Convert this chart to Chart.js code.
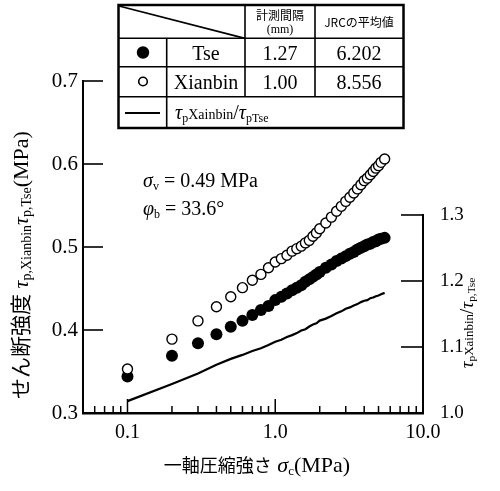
<!DOCTYPE html>
<html><head><meta charset="utf-8">
<script src="https://cdn.jsdelivr.net/npm/chart.js@4/dist/chart.umd.min.js"></script>
<style>
html,body{margin:0;padding:0;background:#fff;}
#wrap{position:relative;width:500px;height:491px;overflow:hidden;background:#fff;}
#c{position:absolute;left:0;top:0;}
.t{position:absolute;font-family:"Liberation Serif","Times New Roman",serif;color:#000;white-space:nowrap;line-height:1;}
.cjk{font-family:"Noto Sans CJK JP",sans-serif;}
.c{transform:translate(-50%,-50%);}
sub{font-size:0.6em;vertical-align:-0.25em;line-height:0;}
svg{position:absolute;left:0;top:0;}
</style></head>
<body>
<div id="wrap">
<canvas id="c" width="500" height="491"></canvas>
<svg width="500" height="491" viewBox="0 0 500 491">
  <g stroke="#000" fill="none">
    <rect x="118.5" y="5" width="285" height="123" stroke-width="2.5"/>
    <line x1="118" y1="38.3" x2="404" y2="38.3" stroke-width="1.6"/>
    <line x1="118" y1="66.7" x2="404" y2="66.7" stroke-width="1.6"/>
    <line x1="118" y1="96.7" x2="404" y2="96.7" stroke-width="1.6"/>
    <line x1="166.7" y1="38.3" x2="166.7" y2="128" stroke-width="1.6"/>
    <line x1="245" y1="5" x2="245" y2="96.7" stroke-width="1.6"/>
    <line x1="315" y1="5" x2="315" y2="96.7" stroke-width="1.6"/>
    <line x1="119" y1="6" x2="245" y2="38.3" stroke-width="1.8"/>
    <line x1="125" y1="113" x2="160" y2="113" stroke-width="2.2"/>
    <circle cx="143" cy="52.5" r="6.2" fill="#000" stroke="none"/>
    <circle cx="143" cy="81.5" r="4.3" stroke-width="1.6"/>
  </g>
</svg>
<div class="t cjk c" style="left:280px;top:15px;font-size:12px;">計測間隔</div>
<div class="t c" style="left:280px;top:29px;font-size:12px;">(mm)</div>
<div class="t cjk c" style="left:359px;top:22px;font-size:12px;">JRCの平均値</div>
<div class="t c" style="left:206px;top:53px;font-size:20px;">Tse</div>
<div class="t c" style="left:280px;top:53px;font-size:20px;">1.27</div>
<div class="t c" style="left:359px;top:53px;font-size:20px;">6.202</div>
<div class="t c" style="left:206px;top:82px;font-size:20px;">Xianbin</div>
<div class="t c" style="left:280px;top:82px;font-size:20px;">1.00</div>
<div class="t c" style="left:359px;top:82px;font-size:20px;">8.556</div>
<div class="t" style="left:175px;top:102px;font-size:20px;"><i>τ</i><sub>p</sub><span style="font-size:14px">Xainbin</span>/<i>τ</i><sub>p</sub><sub>Tse</sub></div>

<div class="t" style="left:143px;top:170px;font-size:20px;"><i>σ</i><sub>v</sub> = 0.49 MPa</div>
<div class="t" style="left:143px;top:198px;font-size:20px;"><i>φ</i><sub>b</sub> = 33.6°</div>

<div class="t" style="left:20px;top:265px;font-size:22px;transform:translate(-50%,-50%) rotate(-90deg);"><span class="cjk" style="font-size:21px">せん断強度</span> <i>τ</i><sub style="font-size:14px">p,Xianbin</sub><i>τ</i><sub style="font-size:14px">p,Tse</sub>(MPa)</div>
<div class="t" style="left:466px;top:323px;font-size:19px;transform:translate(-50%,-50%) rotate(-90deg);"><i>τ</i><sub>p</sub><span style="font-size:13px">Xainbin</span>/<i>τ</i><sub>p,Tse</sub></div>
<div class="t c" style="left:257px;top:465px;font-size:22px;"><span class="cjk" style="font-size:18px">一軸圧縮強さ</span> <i>σ</i><sub style="font-size:13px">c</sub>(MPa)</div>
</div>
<script>
const xValues = [0.1,0.2,0.3,0.4,0.5,0.6,0.7,0.8,0.9,1.0,1.1,1.2,1.3,1.4,1.5,1.6,1.7,1.8,1.9,2.0,2.2,2.4,2.6,2.8,3.0,3.2,3.4,3.6,3.8,4.0,4.2,4.4,4.6,4.8,5.0,5.2,5.5];
const tseValues = [0.344,0.369,0.384,0.395,0.404,0.411,0.418,0.424,0.429,0.436,0.440,0.444,0.448,0.451,0.454,0.458,0.461,0.464,0.467,0.470,0.475,0.479,0.483,0.486,0.489,0.492,0.494,0.497,0.499,0.501,0.503,0.504,0.506,0.507,0.509,0.510,0.511];
const xianbinValues = [0.353,0.389,0.411,0.428,0.440,0.451,0.460,0.467,0.475,0.482,0.486,0.490,0.495,0.498,0.501,0.505,0.508,0.513,0.517,0.522,0.529,0.536,0.543,0.549,0.555,0.560,0.565,0.570,0.575,0.580,0.583,0.587,0.591,0.595,0.598,0.602,0.606];
const ratioValues = [1.018,1.044,1.060,1.073,1.082,1.088,1.094,1.098,1.103,1.108,1.111,1.115,1.118,1.121,1.125,1.127,1.131,1.134,1.136,1.140,1.143,1.147,1.151,1.154,1.158,1.160,1.163,1.165,1.168,1.170,1.171,1.174,1.175,1.177,1.178,1.180,1.182];

const xTickValues = [0.1,1,10];
const xTickLabels = ['0.1','1.0','10.0'];
const xMinorTickValues = [0.06,0.07,0.08,0.09,0.2,0.3,0.4,0.5,0.6,0.7,0.8,0.9,2,3,4,5,6,7,8,9];
const yTickValues = [0.3,0.4,0.5,0.6,0.7];
const yTickLabels = ['0.3','0.4','0.5','0.6','0.7'];
const y1TickValues = [1.0,1.1,1.2,1.3];
const y1TickLabels = ['1.0','1.1','1.2','1.3'];

const serif = '"Liberation Serif","Times New Roman",serif';

const inTicks = {
  id:'inTicks',
  afterDraw(chart){
    const {ctx, chartArea:a, scales} = chart;
    const x = scales.x, y = scales.y, y1 = scales.y1;
    ctx.save();
    ctx.strokeStyle = '#000';
    const seg = (x1,y1_,x2,y2,w)=>{ctx.lineWidth=w;ctx.beginPath();ctx.moveTo(x1,y1_);ctx.lineTo(x2,y2);ctx.stroke();};
    xTickValues.forEach(v=>{ if(v>=10) return; const p=x.getPixelForValue(v); seg(p,a.bottom,p,a.bottom-14,1.5); });
    xMinorTickValues.forEach(v=>{ const p=x.getPixelForValue(v); seg(p,a.bottom,p,a.bottom-7,1.5); });
    yTickValues.forEach(v=>{ if(v<=0.3) return; const p=y.getPixelForValue(v); seg(a.left,p,a.left+20,p,1.6); });
    const top1 = y1.getPixelForValue(1.3), bot1 = y1.getPixelForValue(1.0);
    seg(a.right,top1-1,a.right,bot1,2);
    y1TickValues.forEach(v=>{ if(v<=1.0) return; const p=y1.getPixelForValue(v); seg(a.right,p,a.right-22,p,1.6); });
    ctx.restore();
  }
};

new Chart(document.getElementById('c'), {
  data: {
    datasets: [
      { type:'scatter', label:'Xianbin', order:0, data: xValues.map((v,i)=>({x:v,y:xianbinValues[i]})),
        pointRadius:5, pointBackgroundColor:'#fff', pointBorderColor:'#000', pointBorderWidth:1.4, yAxisID:'y' },
      { type:'scatter', label:'Tse', order:1, data: xValues.map((v,i)=>({x:v,y:tseValues[i]})),
        pointRadius:6, pointBackgroundColor:'#000', pointBorderColor:'#000', pointBorderWidth:0, yAxisID:'y' },
      { type:'line', label:'ratio', order:2, data: xValues.map((v,i)=>({x:v,y:ratioValues[i]})),
        borderColor:'#000', borderWidth:2.2, pointRadius:0, tension:0, fill:false, yAxisID:'y1' }
    ]
  },
  options: {
    responsive:false, animation:false, devicePixelRatio:1,
    layout:{ padding:{ top:81, left:0, right:0, bottom:0 } },
    plugins:{ legend:{display:false}, tooltip:{enabled:false} },
    scales:{
      x:{ type:'logarithmic', position:'bottom', min:0.05, max:10,
        grid:{display:false, drawTicks:false},
        border:{display:true, color:'#000', width:2.5},
        ticks:{ color:'#000', font:{family:serif,size:20}, padding:8, maxRotation:0, autoSkip:false,
          callback:(v,i)=>xTickLabels[i] },
        afterBuildTicks:(s)=>{ s.ticks = xTickValues.map(v=>({value:v})); },
        afterFit:(s)=>{ s.height = 78; }
      },
      y:{ type:'linear', position:'left', min:0.3, max:0.7,
        grid:{display:false, drawTicks:false},
        border:{display:true, color:'#000', width:2},
        ticks:{ color:'#000', font:{family:serif,size:21}, padding:5,
          callback:(v,i)=>yTickLabels[i] },
        afterBuildTicks:(s)=>{ s.ticks = yTickValues.map(v=>({value:v})); },
        afterFit:(s)=>{ s.width = 83; }
      },
      y1:{ type:'linear', position:'right', min:1.0, max:1.503,
        grid:{display:false, drawTicks:false},
        border:{display:false},
        ticks:{ color:'#000', font:{family:serif,size:19}, padding:17,
          callback:(v,i)=>y1TickLabels[i] },
        afterBuildTicks:(s)=>{ s.ticks = y1TickValues.map(v=>({value:v})); },
        afterFit:(s)=>{ s.width = 77; }
      }
    }
  },
  plugins:[inTicks]
});
</script>
</body></html>
